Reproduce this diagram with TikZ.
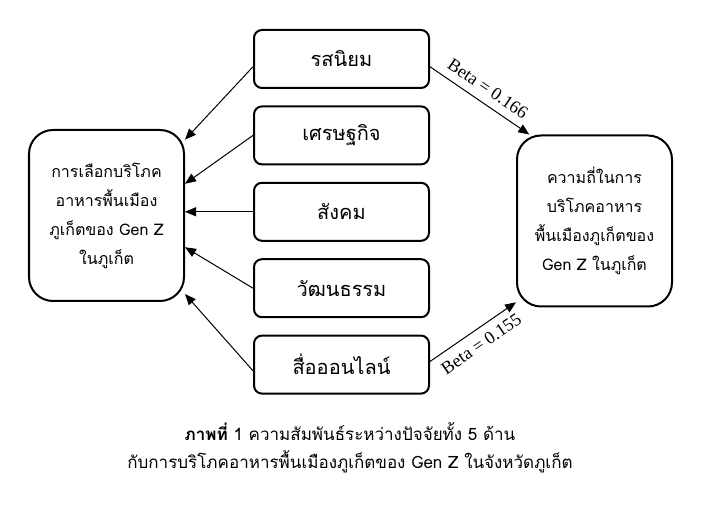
\documentclass[tikz,border=0pt]{standalone}
\usepackage{fontspec}
\setmainfont[Script=Thai]{Loma}
\newfontfamily\timesfont{Liberation Serif}
\usetikzlibrary{arrows.meta,positioning}

\begin{document}
\begin{tikzpicture}
	[>={Triangle[length=5.5pt,width=4.5pt]}, x=1pt, y=1pt, node distance=8.2pt,
	factor/.style={draw, line width=1pt, rounded corners=4pt, minimum width=87.5pt, minimum height=29pt, font=\fontsize{10}{12}\selectfont},
	outcome/.style={draw, line width=1pt, rounded corners=12pt, minimum width=77.5pt, minimum height=85.5pt, align=center, font=\fontsize{8}{14.5}\selectfont},
	beta/.style={sloped, inner sep=4pt, font=\timesfont\fontsize{9}{10}\selectfont}]
	\useasboundingbox (0,0) rectangle (354.5,-254);
	\node[outcome] (L) at (53.25,-107.75) {การเลือกบริโภค\\อาหารพื้นเมือง\\ภูเก็ตของ Gen Z\\ในภูเก็ต};
	\node[outcome] (R) at (297.25,-110.5) {ความถี่ในการ\\บริโภคอาหาร\\พื้นเมืองภูเก็ตของ\\Gen Z ในภูเก็ต};
	\node[factor] (A) at (170.75,-29.5) {รสนิยม};
	\node[factor] (B) [below=of A] {เศรษฐกิจ};
	\node[factor] (C) [below=of B] {สังคม};
	\node[factor] (D) [below=of C] {วัฒนธรรม};
	\node[factor] (E) [below=of D] {สื่อออนไลน์};
	\path[->, line width=0.5pt] (A.185) edge (L.44)
	(B.west) edge (L.22.5)
	(C.west) edge (C.west -| L.east)
	(D.west) edge (L.-22.5)
	(E.184) edge (L.-45)
	(A.-5) edge node[beta, above] {Beta = 0.166} (R.127)
	(E.2) edge node[beta, below] {Beta = 0.155} (R.226);
	\node[align=center, font=\fontsize{8.5}{14}\selectfont] (cap) at (175,-224) {\textbf{ภาพที่} 1 ความสัมพันธ์ระหว่างปัจจัยทั้ง 5 ด้าน\\กับการบริโภคอาหารพื้นเมืองภูเก็ตของ Gen Z ในจังหวัดภูเก็ต};
\end{tikzpicture}
\end{document}
